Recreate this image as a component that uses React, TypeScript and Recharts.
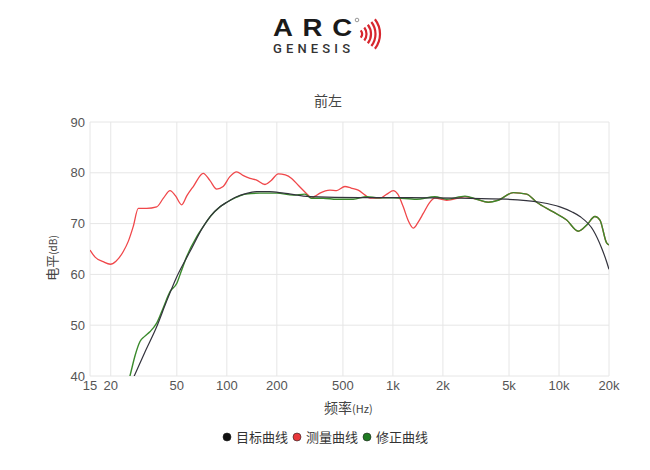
import React from "react"
import { LineChart, Line, XAxis, YAxis, CartesianGrid } from "recharts"

// frequency (Hz) / level (dB)
const targetFreq = [25, 27.7, 32, 37.8, 43, 49.9, 60, 72.1, 80, 90.9, 100, 114.6, 130, 151, 180, 220, 317, 632, 1266, 2533, 4838, 7680, 10130, 12000, 13370, 16070, 18000, 19350, 20000]
const targetDb = [36.6, 40, 44.6, 49.7, 54.4, 59.5, 64.5, 69.4, 71.5, 73.3, 74.2, 75.3, 75.9, 76.3, 76.3, 76.0, 75.3, 75.1, 75.1, 75.0, 74.8, 74.2, 73.3, 72.3, 71.4, 68.7, 65.3, 62.5, 61.0]

const measuredFreq = [15, 16.1, 18, 19.9, 21.5, 23.8, 25.5, 27.3, 29.3, 32.9, 37.8, 41.5, 45.5, 49, 53.5, 57.5, 62.8, 72.1, 79, 86.9, 95, 104, 114.6, 125, 137.8, 150, 169.7, 185, 204, 225, 245.6, 270, 309, 324, 340, 363.7, 417.8, 458, 514, 560, 618, 680, 727, 835, 920, 1005, 1070, 1154, 1240, 1326, 1420, 1523, 1650, 1791, 2106, 2533, 2715, 3192, 3750, 4308, 5303, 6387, 7335, 9233, 11120, 13060, 14670, 16460, 17640, 19350, 20000]
const measuredDb = [64.8, 63.4, 62.5, 62.0, 62.6, 64.5, 66.5, 69.4, 73.0, 73.0, 73.3, 75.0, 76.5, 75.5, 73.7, 75.5, 77.3, 79.9, 78.5, 76.8, 77.3, 79.2, 80.2, 79.5, 78.9, 78.6, 77.7, 78.5, 79.8, 79.6, 78.9, 77.5, 75.6, 75.0, 75.4, 76.0, 76.6, 76.5, 77.3, 77.0, 76.6, 75.6, 75.0, 75.0, 75.8, 76.5, 75.8, 73.3, 70.5, 69.1, 70.3, 72.0, 74.0, 75.0, 74.6, 75.1, 75.3, 74.8, 74.2, 74.6, 76.1, 75.8, 74.2, 72.3, 70.7, 68.5, 69.7, 71.4, 70.7, 66.2, 65.8]

const correctedFreq = [25, 26.1, 28, 30, 32, 34.4, 37.8, 41.5, 45.5, 49.9, 53, 57.3, 65.8, 72.1, 80, 90.9, 100, 114.6, 130, 158, 199.5, 251, 295, 324, 380, 458, 577, 695, 820, 1005, 1390, 1791, 2106, 2715, 3192, 3750, 4308, 5303, 6387, 7335, 9233, 11120, 13060, 14670, 16460, 17640, 19350, 20000]
const correctedDb = [37.8, 40, 44, 46.8, 47.8, 48.7, 50.4, 53.5, 56.6, 58.2, 60.5, 63.5, 67.4, 69.4, 71.5, 73.3, 74.2, 75.2, 75.8, 76.0, 76.0, 75.6, 75.8, 75.0, 75.0, 74.8, 74.8, 75.3, 75.1, 75.1, 74.8, 75.3, 74.8, 75.4, 74.8, 74.2, 74.6, 76.1, 75.8, 74.2, 72.3, 70.7, 68.5, 69.7, 71.4, 70.7, 66.2, 65.8]

const xTicks = [15, 20, 50, 100, 200, 500, 1000, 2000, 5000, 10000, 20000]
const yTicks = [40, 50, 60, 70, 80, 90]

const legendItems = [
  { name: "目标曲线", color: "#111111" },
  { name: "测量曲线", color: "#e8383b" },
  { name: "修正曲线", color: "#1f7a22" },
]

const zip = (fs: number[], vs: number[]) => fs.map((f, i) => ({ f, v: vs[i] }))

const targetData = zip(targetFreq, targetDb)
const measuredData = zip(measuredFreq, measuredDb)
const correctedData = zip(correctedFreq, correctedDb)

const fmtHz = (v: number) => (v >= 1000 ? `${v / 1000}k` : `${v}`)

const cjk = "'Noto Sans CJK SC', 'Noto Sans', sans-serif"
const tickStyle = { fontSize: 13, fill: "#555", fontFamily: "'Liberation Sans', Arial, sans-serif" }

// small red "signal" arcs of the logo
function arc(cx: number, cy: number, r: number, deg: number) {
  const a = (deg * Math.PI) / 180
  const x = cx + r * Math.cos(a)
  const y = r * Math.sin(a)
  return `M ${x} ${cy - y} A ${r} ${r} 0 0 1 ${x} ${cy + y}`
}

export default function App() {
  return (
    <div style={{ position: "absolute", left: 0, top: 0, width: 650, height: 470, background: "#fff" }}>
      <LineChart width={650} height={470} margin={{ top: 122, right: 41, bottom: 64, left: 50 }}>
        <CartesianGrid stroke="#e6e6e6" strokeWidth={1} />
        <XAxis
          dataKey="f"
          type="number"
          scale="log"
          domain={[15, 20000]}
          ticks={xTicks}
          tickFormatter={fmtHz}
          allowDataOverflow
          axisLine={false}
          tickLine={false}
          tickSize={0}
          tickMargin={5}
          height={30}
          interval={0}
          tick={tickStyle}
        />
        <YAxis
          type="number"
          domain={[40, 90]}
          ticks={yTicks}
          allowDataOverflow
          axisLine={false}
          tickLine={false}
          tickSize={0}
          tickMargin={5}
          width={40}
          tick={tickStyle}
        />
        <Line data={measuredData} dataKey="v" type="monotone" stroke="#f0474a" strokeWidth={1.3} dot={false} isAnimationActive={false} />
        <Line data={correctedData} dataKey="v" type="monotone" stroke="#3a8a2c" strokeWidth={1.4} dot={false} isAnimationActive={false} />
        <Line data={targetData} dataKey="v" type="monotone" stroke="#33333d" strokeWidth={1.2} dot={false} isAnimationActive={false} />
      </LineChart>

      <svg width={650} height={470} style={{ position: "absolute", left: 0, top: 0, pointerEvents: "none" }}>
        {/* logo */}
        <g transform="translate(273,36) scale(1.2,1)">
          <text x={0} y={0} fontSize={23} fontWeight={700} textLength={66} lengthAdjust="spacing" fill="#1a1a1a" fontFamily="'Liberation Sans', Arial, sans-serif">ARC</text>
        </g>
        <text x={273} y={53} fontSize={13} fontWeight={500} textLength={77} lengthAdjust="spacing" fill="#333" fontFamily="Roboto, sans-serif">GENESIS</text>
        <circle cx={357} cy={20} r={1.8} fill="none" stroke="#555" strokeWidth={0.6} />
        {[6, 10.5, 15, 19.5, 24].map((r) => (
          <path key={r} d={arc(356, 34, r, 38)} fill="none" stroke="#d7262e" strokeWidth={2.2} />
        ))}

        {/* title */}
        <text x={328} y={106} fontSize={14} textAnchor="middle" fill="#444" fontFamily={cjk}>前左</text>

        {/* axis titles */}
        <text x={324} y={413} fill="#444" fontFamily={cjk}>
          <tspan fontSize={14}>频率</tspan>
          <tspan fontSize={11}>(Hz)</tspan>
        </text>
        <text transform="translate(57,258) rotate(-90)" textAnchor="middle" fill="#444" fontFamily={cjk}>
          <tspan fontSize={13}>电平</tspan>
          <tspan fontSize={10}>(dB)</tspan>
        </text>

        {/* legend */}
        {legendItems.map((it, i) => (
          <g key={it.name}>
            <circle cx={227 + i * 70} cy={437} r={4} fill={it.color} stroke="#222" strokeWidth={0.6} />
            <text x={236 + i * 70} y={442} fontSize={13} fill="#333" fontFamily={cjk}>{it.name}</text>
          </g>
        ))}
      </svg>
    </div>
  )
}
